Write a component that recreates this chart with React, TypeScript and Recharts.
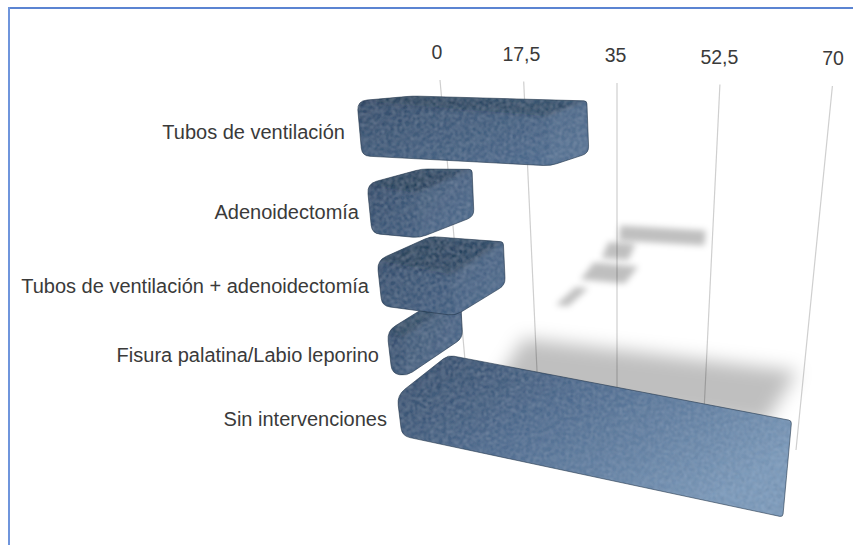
import React from "react";
import { BarChart, Bar, XAxis, YAxis, CartesianGrid } from "recharts";

const categories = [
  "Sin intervenciones",
  "Fisura palatina/Labio leporino",
  "Tubos de ventilación + adenoidectomía",
  "Adenoidectomía",
  "Tubos de ventilación",
];
const values = [68, 2.5, 12, 7.5, 28.5];
const tickValues = [0, 17.5, 35, 52.5, 70];
const tickLabels = ["0", "17,5", "35", "52,5", "70"];

const rows = categories.map((name, i) => ({ name, value: values[i] }));

const WIDTH = 853;
const HEIGHT = 545;
const PLOT_LEFT = 440;
const PLOT_WIDTH = 393;
const PLOT_TOP = 80;
const PLOT_HEIGHT = 420;
const BAND = PLOT_HEIGHT / categories.length;
const FONT = "'Liberation Sans', Arial, sans-serif";

type Pt = [number, number];

// the picture is a faked 3D view: everything below bends the flat plot into it
const rowOf = (flatY: number) => (flatY - PLOT_TOP) / BAND - 0.5;
const frontTop = (r: number) => 101 + 86 * r - 3.1 * r * r;
const frontHeight = (r: number) => 55 - 6 * r + 0.6 * r * r;
const frontLeft = (r: number) => 357 + 10 * r;
const depth = (p: Pt, pull = 0): Pt => [
  54 - (p[0] - 423) * 0.12 - pull,
  -(p[1] - 60) * 0.12,
];
const gridX = (t: number, y: number) => {
  const top = 440 + 315 * t + 78 * t * t;
  const bottom = 473 + 253 * t + 70 * t * t;
  return top + ((bottom - top) * (y - 80)) / 370;
};

function roundedPath(pts: Pt[], radii: number[]) {
  let d = "";
  pts.forEach((p, i) => {
    const prev = pts[(i + pts.length - 1) % pts.length];
    const next = pts[(i + 1) % pts.length];
    const cut = (q: Pt) => {
      const l = Math.hypot(q[0] - p[0], q[1] - p[1]) || 1;
      const k = Math.min(radii[i], l / 2) / l;
      return [p[0] + (q[0] - p[0]) * k, p[1] + (q[1] - p[1]) * k];
    };
    const a = cut(prev);
    const b = cut(next);
    d += `${i ? "L" : "M"}${a[0]} ${a[1]} Q${p[0]} ${p[1]} ${b[0]} ${b[1]} `;
  });
  return d + "Z";
}

const poly = (pts: Pt[]) => pts.map((p) => p.join(",")).join(" ");

function mix(a: number[], b: number[], t: number) {
  return `rgb(${a.map((v, i) => Math.round(v + (b[i] - v) * t)).join(",")})`;
}

function BoxShape(props: any) {
  const { y, height, index, payload } = props;
  const v = payload.value;
  const r = rowOf(y + height / 2);
  const h = frontHeight(r);
  const last = Math.max(0, Math.min(1, r - 3));

  const A: Pt = [frontLeft(r), frontTop(r)];
  const B: Pt = [A[0] + 5, A[1] + h];
  const len = v * (6.6 - 0.25 * r);
  const C: Pt = [B[0] + len, B[1] + len * (0.053 + 0.04 * r)];
  const dc = depth(C);
  const D0: Pt = [C[0] + dc[0], C[1] + dc[1]];
  const E: Pt = [D0[0] - 2, D0[1] - h * 0.95 - 3 * last];
  // the lowest bar has no visible end face: its right side runs straight
  const D: Pt = [
    D0[0] + ((E[0] + C[0]) / 2 - D0[0]) * last,
    D0[1] + ((E[1] + C[1]) / 2 - D0[1]) * last,
  ];
  const da = depth(A, 6);
  const F: Pt = [A[0] + da[0], A[1] + da[1]];
  const G: Pt = [C[0] - 3, C[1] - h * 0.9];

  const outline = roundedPath([A, F, E, D, C, B], [10, 6, 3, 7, 7 - 4 * last, 8]);
  const mid = mix([56, 82, 114], [80, 110, 146], Math.pow(v / 70, 2));
  const end = mix([66, 95, 130], [132, 162, 194], Math.pow(v / 70, 2));
  const topShade = 0.34 * Math.max(0, Math.min(1, 3.6 - r));

  // floor shadow
  const sy = 233 + 15 * r + 2 * r * r + 40 * last;
  const th = 15 + r + 34 * last;
  const sx = 622 - 0.85 * (sy - 230);
  const sw = v * (2.9 + 0.27 * r) + 3;
  const drop = sw * (0.06 + 0.015 * r);
  const skew = th * (0.05 + 0.17 * Math.min(r, 3) - 0.25 * last);
  const shadow: Pt[] = [
    [sx + skew, sy - th / 2],
    [sx + skew + sw, sy - th / 2 + drop],
    [sx - skew + sw, sy + th / 2 + drop],
    [sx - skew, sy + th / 2],
  ];

  return (
    <g>
      <defs>
        <linearGradient id={`box-${index}`} x1="0" y1="0" x2="1" y2="0.6">
          <stop offset="0" stopColor="#2b4361" />
          <stop offset="0.45" stopColor={mid} />
          <stop offset="1" stopColor={end} />
        </linearGradient>
        <clipPath id={`clip-${index}`}>
          <path d={outline} />
        </clipPath>
        <filter id={`soft-${index}`} x="-50%" y="-150%" width="200%" height="400%">
          <feGaussianBlur stdDeviation={r > 3.5 ? 9 : 3.4} />
        </filter>
        <filter id={`edge-${index}`} x="-10%" y="-10%" width="120%" height="120%">
          <feGaussianBlur stdDeviation={2} />
        </filter>
        <filter id={`grain-${index}`} x="0" y="0" width="1" height="1">
          <feTurbulence type="fractalNoise" baseFrequency="0.45" numOctaves="3" seed={index + 3} result="n" />
          <feGaussianBlur in="n" stdDeviation="0.8" result="nb" />
          <feColorMatrix
            in="nb"
            type="matrix"
            values="0 0 0 0 0.12  0 0 0 0 0.19  0 0 0 0 0.3  1.4 0 0 0 -0.55"
            result="dark"
          />
          <feColorMatrix
            in="nb"
            type="matrix"
            values="0 0 0 0 0.55  0 0 0 0 0.65  0 0 0 0 0.78  0 0.7 0 0 -0.3"
            result="light"
          />
          <feComposite in="dark" in2="SourceAlpha" operator="in" result="darkCut" />
          <feComposite in="light" in2="SourceAlpha" operator="in" result="lightCut" />
          <feMerge>
            <feMergeNode in="SourceGraphic" />
            <feMergeNode in="darkCut" />
            <feMergeNode in="lightCut" />
          </feMerge>
        </filter>
      </defs>
      <polygon points={poly(shadow)} fill="#000" fillOpacity={0.25} filter={`url(#soft-${index})`} />
      <g filter={`url(#grain-${index})`}>
        <path d={outline} fill={`url(#box-${index})`} />
        <g clipPath={`url(#clip-${index})`}>
          <g filter={`url(#edge-${index})`}>
            <polygon points={poly([A, F, E, G])} fill="#101c2c" fillOpacity={topShade} />
            <polygon points={poly([G, C, D, E])} fill="#fff" fillOpacity={r > 3.5 ? 0 : 0.05} />
          </g>
        </g>
      </g>
      <path d={outline} fill="none" stroke="#1f3146" strokeOpacity={0.55} strokeWidth={1} />
    </g>
  );
}

function GridLine(props: any) {
  const t = (props.x1 - PLOT_LEFT) / PLOT_WIDTH;
  const top = 80 + 6 * t;
  return (
    <line
      key={props.key ?? t}
      x1={gridX(t, top)}
      y1={top}
      x2={gridX(t, 450)}
      y2={450}
      stroke="#cfcfcf"
      strokeWidth={1.2}
    />
  );
}

function ValueTick(props: any) {
  const t = (props.x - PLOT_LEFT) / PLOT_WIDTH;
  const i = tickValues.indexOf(props.payload.value);
  return (
    <text
      x={gridX(t, 80) - 3 + t * 3}
      y={59 + 6 * t}
      textAnchor="middle"
      fontFamily={FONT}
      fontSize={19.5}
      fill="#3a3a3a"
    >
      {tickLabels[i]}
    </text>
  );
}

function NameTick(props: any) {
  const r = rowOf(props.y);
  return (
    <text
      x={frontLeft(r) - 8 - 4 * Math.max(0, 1 - r) - 2 * Math.max(0, r - 3)}
      y={frontTop(r) + frontHeight(r) / 2 + 10}
      textAnchor="end"
      fontFamily={FONT}
      fontSize={20}
      fill="#3a3a3a"
    >
      {props.payload.value}
    </text>
  );
}

export default function App() {
  return (
    <div style={{ position: "absolute", left: 0, top: 0, width: WIDTH, height: HEIGHT, background: "#fff" }}>
      <div style={{ position: "absolute", left: 8, top: 7, right: 0, height: 2, background: "#5b84d2" }} />
      <div style={{ position: "absolute", left: 8, top: 7, bottom: 0, width: 2, background: "#6f95dc" }} />
      <BarChart
        width={WIDTH}
        height={HEIGHT}
        data={rows}
        layout="vertical"
        margin={{ top: 50, right: WIDTH - PLOT_LEFT - PLOT_WIDTH, bottom: HEIGHT - PLOT_TOP - PLOT_HEIGHT, left: 0 }}
      >
        <CartesianGrid horizontal={false} vertical={GridLine} />
        <XAxis
          type="number"
          orientation="top"
          domain={[0, 70]}
          ticks={tickValues}
          interval={0}
          height={PLOT_TOP - 50}
          axisLine={false}
          tickLine={false}
          tick={ValueTick}
        />
        <YAxis
          type="category"
          dataKey="name"
          reversed
          width={PLOT_LEFT}
          interval={0}
          axisLine={false}
          tickLine={false}
          tick={NameTick}
        />
        <Bar dataKey="value" isAnimationActive={false} shape={BoxShape} />
      </BarChart>
    </div>
  );
}
